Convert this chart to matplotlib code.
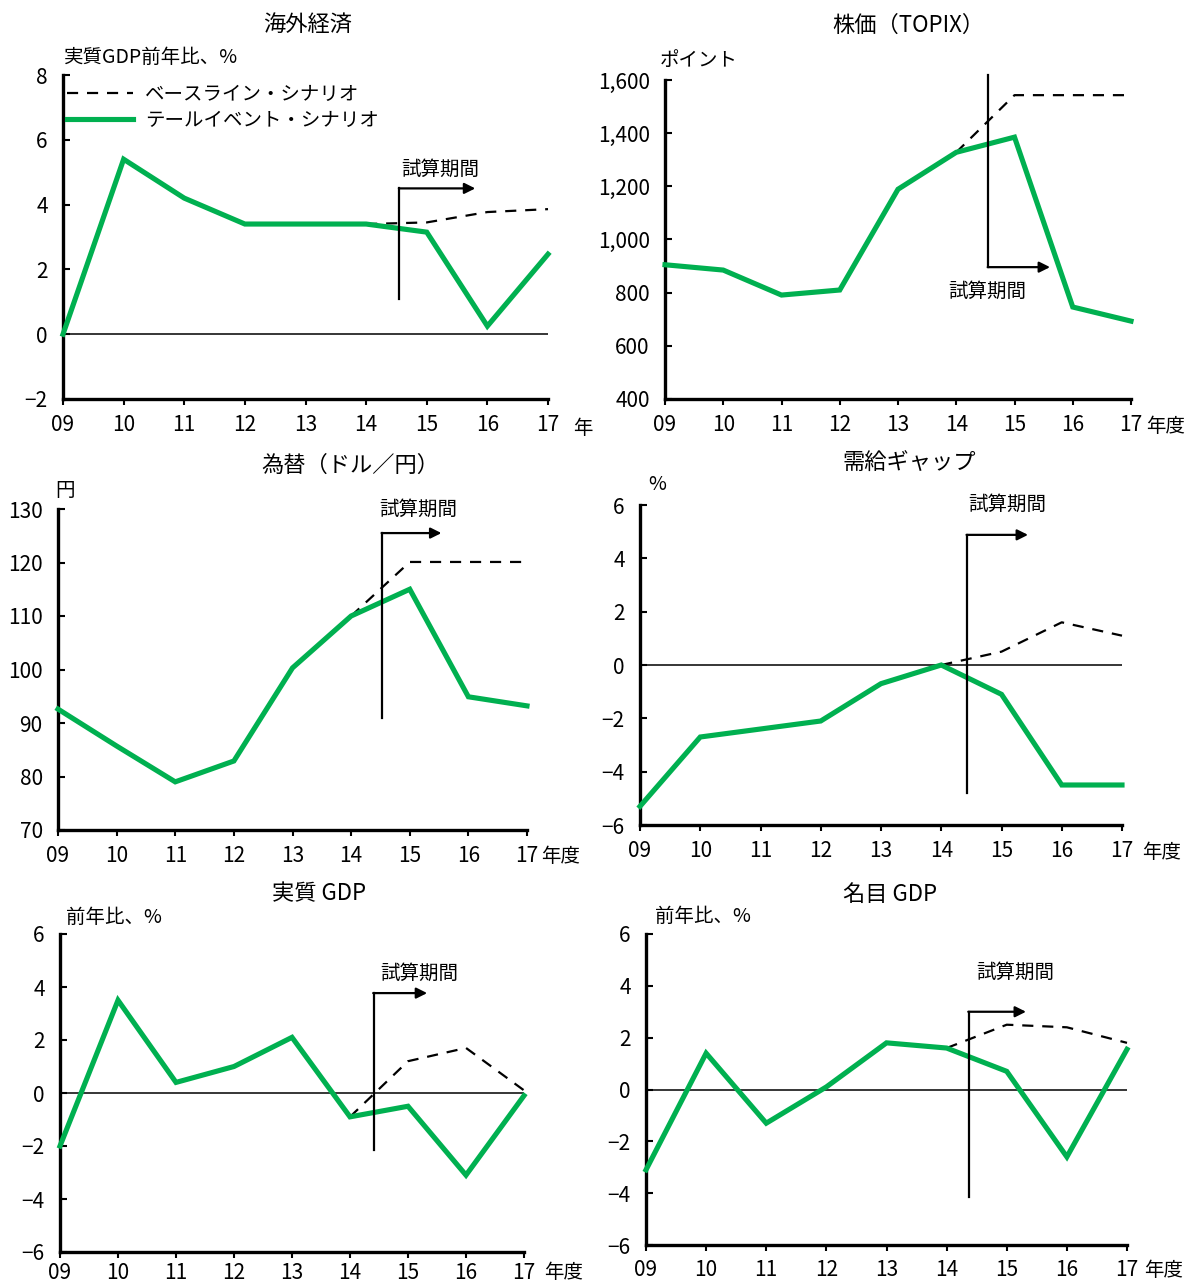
import numpy as np
import matplotlib
matplotlib.use("Agg")
import matplotlib.pyplot as plt
from matplotlib.lines import Line2D

plt.rcParams['font.family'] = ['Noto Sans CJK JP', 'DejaVu Sans']

# ---- data -------------------------------------------------------------
years = ['09', '10', '11', '12', '13', '14', '15', '16', '17']
base_start = 5  # baseline scenario is drawn from FY14 onward

world_tail = [0.0, 5.4, 4.2, 3.4, 3.4, 3.4, 3.15, 0.25, 2.47]
world_base = [3.4, 3.45, 3.77, 3.86]

topix_tail = [905, 885, 791, 810, 1189, 1328, 1385, 746, 693]
topix_base = [1328, 1543, 1543, 1543]

fx_tail = [92.6, 85.7, 79.0, 82.9, 100.3, 110.0, 115.0, 94.9, 93.2]
fx_base = [110.0, 120.1, 120.1, 120.1]

gap_tail = [-5.3, -2.7, -2.4, -2.1, -0.7, 0.0, -1.1, -4.5, -4.5]
gap_base = [0.0, 0.5, 1.6, 1.1]

rgdp_tail = [-2.0, 3.5, 0.4, 1.0, 2.1, -0.9, -0.5, -3.1, -0.1]
rgdp_base = [-0.9, 1.2, 1.7, 0.1]

ngdp_tail = [-3.1, 1.4, -1.3, 0.1, 1.8, 1.6, 0.7, -2.6, 1.55]
ngdp_base = [1.6, 2.5, 2.4, 1.8]

label_base = 'ベースライン・シナリオ'
label_tail = 'テールイベント・シナリオ'
period_text = '試算期間'

GREEN = '#00B050'
W, H = 1188, 1286
FS = 14
TICK_FS = 15

fig = plt.figure(figsize=(W / 100, H / 100), dpi=100)


def add_axes_px(x0, y0, x1, y1):
    return fig.add_axes([x0 / W, 1 - y1 / H, (x1 - x0) / W, (y1 - y0) / H])


def fig_text(x, y, s, size=FS, **kw):
    fig.text(x / W, 1 - y / H, s, fontsize=size, **kw)


panels = [
    dict(box=(63, 75, 548, 399), ylim=(-2, 8), yticks=[-2, 0, 2, 4, 6, 8],
         tail=world_tail, base=world_base, title='海外経済', tpos=(308, 25),
         ylab='実質GDP前年比、%', ypos=(64, 57), unit='年', upos=(573, 428),
         arrow=(5.55, 1.1, 4.5, 6.8), apos=(6.22, 5.1), zero=True, xpad=7),
    dict(box=(665, 80, 1131, 399), ylim=(400, 1600), yticks=[400, 600, 800, 1000, 1200, 1400, 1600],
         tail=topix_tail, base=topix_base, title='株価（TOPIX）', tpos=(908, 25),
         ylab='ポイント', ypos=(660, 60), unit='年度', upos=(1146, 426),
         arrow=(5.55, 1618, 896, 6.61), apos=(5.53, 806), zero=False, comma=True, xpad=7),
    dict(box=(58, 509, 527, 830), ylim=(70, 130), yticks=[70, 80, 90, 100, 110, 120, 130],
         tail=fx_tail, base=fx_base, title='為替（ドル／円）', tpos=(350, 465),
         ylab='円', ypos=(55, 490), unit='年度', upos=(541, 856),
         arrow=(5.53, 90.9, 125.5, 6.54), apos=(6.14, 130.0), zero=False, xpad=7),
    dict(box=(640, 505, 1122, 825), ylim=(-6, 6), yticks=[-6, -4, -2, 0, 2, 4, 6],
         tail=gap_tail, base=gap_base, title='需給ギャップ', tpos=(909, 463),
         ylab='%', ypos=(648, 484), unit='年度', upos=(1142, 852),
         arrow=(5.43, -4.8, 4.88, 6.44), apos=(6.09, 6.04), zero=True, xpad=7),
    dict(box=(60, 934, 524, 1252), ylim=(-6, 6), yticks=[-6, -4, -2, 0, 2, 4, 6],
         tail=rgdp_tail, base=rgdp_base, title='実質 GDP', tpos=(319, 894),
         ylab='前年比、%', ypos=(66, 917), unit='年度', upos=(544, 1272),
         arrow=(5.41, -2.15, 3.77, 6.33), apos=(6.2, 4.53), zero=True, xpad=3),
    dict(box=(646, 934, 1127, 1245), ylim=(-6, 6), yticks=[-6, -4, -2, 0, 2, 4, 6],
         tail=ngdp_tail, base=ngdp_base, title='名目 GDP', tpos=(890, 894),
         ylab='前年比、%', ypos=(655, 916), unit='年度', upos=(1144, 1270),
         arrow=(5.37, -4.13, 3.0, 6.32), apos=(6.14, 4.53), zero=True, xpad=6),
]

x_all = np.arange(len(years))

for i, p in enumerate(panels):
    ax = add_axes_px(*p['box'])
    ax.set_xlim(0, len(years) - 1)
    ax.set_ylim(*p['ylim'])

    for side in ('top', 'right'):
        ax.spines[side].set_visible(False)
    for side in ('left', 'bottom'):
        ax.spines[side].set_linewidth(2.4)
        ax.spines[side].set_color('black')

    ax.set_xticks(x_all)
    ax.set_xticklabels(years)
    ax.set_yticks(p['yticks'])
    if p.get('comma'):
        ax.set_yticklabels([f'{v:,}' for v in p['yticks']])
    ax.tick_params(axis='x', direction='out', length=4, width=1.5, pad=p['xpad'],
                   labelsize=TICK_FS)
    ax.tick_params(axis='y', direction='in', length=5, width=1.5, pad=11, labelsize=TICK_FS)
    ax.patch.set_alpha(0)

    if p['zero']:
        ax.axhline(0, color='black', lw=1.1, zorder=1)

    xb = x_all[base_start:]
    ax.plot(xb, p['base'], color='black', lw=1.6, ls=(0, (5, 4)), zorder=2,
            clip_on=False, label=label_base)
    ax.plot(x_all, p['tail'], color=GREEN, lw=3.7, zorder=3, clip_on=False,
            solid_joinstyle='miter', label=label_tail)

    xv, ys, yc, xe = p['arrow']
    ax.plot([xv, xv], [ys, yc], color='black', lw=1.6, zorder=5, clip_on=False)
    ax.annotate('', xy=(xe, yc), xytext=(xv - 0.01, yc),
                arrowprops=dict(arrowstyle='-|>', lw=1.6, color='black',
                                mutation_scale=16, shrinkA=0, shrinkB=0),
                zorder=5, annotation_clip=False)
    ax.text(p['apos'][0], p['apos'][1], period_text, fontsize=FS,
            ha='center', va='center', zorder=6)

    fig_text(p['tpos'][0], p['tpos'][1], p['title'], size=16, ha='center', va='center')
    fig_text(p['ypos'][0], p['ypos'][1], p['ylab'], ha='left', va='center')
    fig_text(p['upos'][0], p['upos'][1], p['unit'], ha='left', va='center')

    if i == 0:
        handles = [Line2D([], [], color='black', lw=1.6, ls=(0, (5, 4))),
                   Line2D([], [], color=GREEN, lw=3.7)]
        ax.legend(handles, [label_base, label_tail], loc='upper left',
                  bbox_to_anchor=(0.0, 0.985), frameon=False, fontsize=FS,
                  handlelength=3.4, handletextpad=0.6, labelspacing=0.25,
                  borderpad=0.2, borderaxespad=0.0)

fig.savefig('out.png', dpi=100)
